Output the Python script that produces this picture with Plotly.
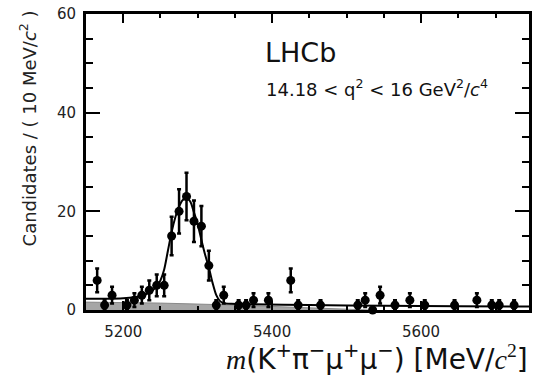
import plotly.graph_objects as go

# ---- data ----
mass_bins = [5165, 5175, 5185, 5205, 5215, 5225, 5235, 5245, 5255, 5265, 5275, 5285,
             5295, 5305, 5315, 5325, 5335, 5355, 5365, 5375, 5395, 5425, 5435, 5465,
             5515, 5525, 5535, 5545, 5565, 5585, 5605, 5645, 5675, 5695, 5705, 5725]
counts = [6, 1, 3, 1, 2, 3, 4, 5, 5, 15, 20, 23,
          18, 17, 9, 1, 3, 1, 1, 2, 2, 6, 1, 1,
          1, 2, 0, 3, 1, 2, 1, 1, 2, 1, 1, 1]
count_err = [2.4, 1.0, 1.7, 1.0, 1.4, 1.7, 2.0, 2.2, 2.2, 3.9, 4.5, 4.8,
             4.2, 4.1, 3.0, 1.0, 1.7, 1.0, 1.0, 1.4, 1.4, 2.4, 1.0, 1.0,
             1.0, 1.4, 0.0, 1.7, 1.0, 1.4, 1.0, 1.0, 1.4, 1.0, 1.0, 1.0]

fit_mass = [5150, 5175, 5200, 5215, 5225, 5235, 5245, 5250, 5255, 5260, 5265, 5270,
            5275, 5280, 5285, 5290, 5295, 5300, 5305, 5310, 5315, 5320, 5325, 5330,
            5335, 5345, 5375, 5450, 5550, 5650, 5745]
fit_vals = [2.3, 2.3, 2.4, 2.6, 2.9, 3.5, 4.8, 6.0, 8.2, 12.0, 15.8, 18.8,
            21.0, 22.3, 22.7, 22.0, 19.8, 17.4, 14.2, 11.2, 8.6, 5.5, 3.0, 1.8,
            1.4, 1.25, 1.15, 1.0, 0.85, 0.75, 0.7]

bkg_mass = [5150, 5250, 5350, 5450, 5500, 5530]
bkg_vals = [1.6, 1.4, 1.0, 0.5, 0.2, 0.0]

x_ticks = [5200, 5400, 5600]
y_ticks = [0, 20, 40, 60]

W, H = 534, 375
L, R, T, B = 86, 2, 14, 65
PH = H - T - B
PW = W - L - R

def py(p):  # pixel y -> paper y
    return (H - B - p) / PH

def px(p):  # pixel x -> paper x
    return (p - L) / PW

fig = go.Figure()
fig.add_trace(go.Scatter(x=bkg_mass, y=bkg_vals, mode="lines", fill="tozeroy",
                         fillcolor="#a6a6a6", line=dict(color="#8a8a8a", width=1),
                         hoverinfo="skip"))
fig.add_trace(go.Scatter(x=fit_mass, y=fit_vals, mode="lines",
                         line=dict(color="black", width=2, shape="spline", smoothing=0.7),
                         hoverinfo="skip"))
fig.add_trace(go.Scatter(x=mass_bins, y=counts, mode="markers",
                         marker=dict(color="black", size=9),
                         error_y=dict(type="data", array=count_err, color="black",
                                      thickness=2.5, width=2),
                         cliponaxis=False))

font_main = "DejaVu Sans"
axis_common = dict(showline=True, linecolor="black", linewidth=3, mirror="allticks",
                   ticks="inside", tickcolor="black", tickwidth=2, showgrid=False,
                   zeroline=False, tickfont=dict(family=font_main, size=15, color="#222"))

fig.update_layout(
    width=W, height=H, margin=dict(l=L, r=R, t=T, b=B),
    paper_bgcolor="white", plot_bgcolor="white", showlegend=False,
    xaxis=dict(range=[5150, 5745], tickmode="array", tickvals=x_ticks,
               ticktext=[str(v) for v in x_ticks], ticklen=9, ticklabelstandoff=6,
               minor=dict(ticks="inside", ticklen=4, tickwidth=2, tickcolor="black",
                          dtick=50, tick0=5150),
               **axis_common),
    yaxis=dict(range=[0, 60], tickmode="array", tickvals=y_ticks,
               ticktext=[str(v) for v in y_ticks], ticklen=14, ticklabelstandoff=4,
               minor=dict(ticks="inside", ticklen=7, tickwidth=2, tickcolor="black",
                          dtick=5, tick0=0),
               **axis_common),
    annotations=[
        dict(text="LHCb", xref="paper", yref="paper", x=px(264), y=py(52),
             xanchor="left", yanchor="middle", showarrow=False,
             font=dict(family=font_main, size=27, color="#111")),
        dict(text="14.18 &lt; q<sup>2</sup> &lt; 16 GeV<sup>2</sup>/<i>c</i><sup>4</sup>",
             xref="paper", yref="paper", x=px(265), y=py(88),
             xanchor="left", yanchor="middle", showarrow=False,
             font=dict(family=font_main, size=18, color="#111")),
        dict(text="Candidates / ( 10 MeV/<i>c</i><sup>2</sup> )", textangle=-90,
             xref="paper", yref="paper", x=px(28), y=py(8),
             xanchor="center", yanchor="top", showarrow=False,
             font=dict(family=font_main, size=18, color="#222")),
        dict(text="<span style='font-family:Liberation Serif'><i>m</i></span>(K<sup>+</sup>π<sup>−</sup>μ<sup>+</sup>μ<sup>−</sup>) [MeV/<span style='font-family:Liberation Serif'><i>c</i><sup>2</sup></span>]",
             xref="paper", yref="paper", x=px(533), y=py(357),
             xanchor="right", yanchor="middle", showarrow=False,
             font=dict(family=font_main, size=28, color="#111")),
    ],
)

fig.write_html("out.html", config={"displayModeBar": False},
               post_script="document.body.style.margin='0';")
